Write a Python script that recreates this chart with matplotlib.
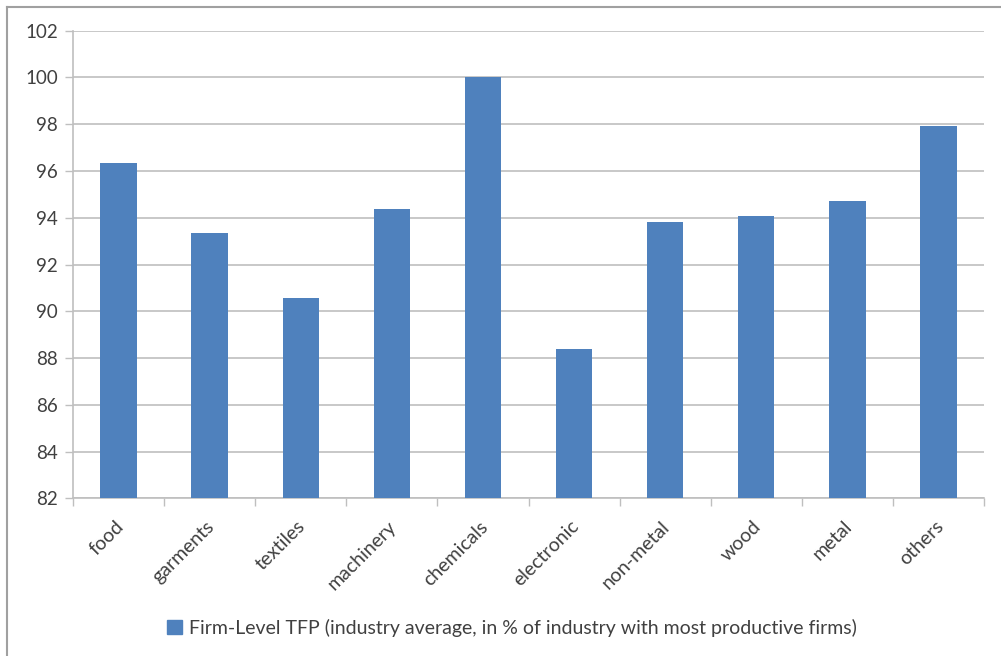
import numpy as np
import matplotlib.pyplot as plt
import matplotlib.transforms as mtransforms
from matplotlib.lines import Line2D
from matplotlib.patches import Patch

plt.rcParams['font.family'] = ['Lato', 'DejaVu Sans']

industries = ['food', 'garments', 'textiles', 'machinery', 'chemicals',
              'electronic', 'non-metal', 'wood', 'metal', 'others']
tfp = [96.35, 93.35, 90.57, 94.37, 100.0, 88.38, 93.83, 94.07, 94.72, 97.93]
series_name = 'Firm-Level TFP (industry average, in % of industry with most productive firms)'

bar_color = '#4F81BD'
grid_color = '#BFBFBF'
text_color = '#404040'

fig = plt.figure(figsize=(10.01, 6.56), dpi=100)
ax = fig.add_axes([73 / 1001, 157.7 / 656, 911 / 1001, 467.6 / 656])

x = np.arange(len(industries))
ax.bar(x, np.array(tfp) - 82, bottom=82, width=0.4, color=bar_color, zorder=3)

ax.set_xlim(-0.5, len(industries) - 0.5)
ax.set_ylim(82, 102)
ax.set_yticks(np.arange(82, 103, 2))
ax.yaxis.grid(True, color=grid_color, linewidth=1.2, zorder=0)
ax.tick_params(axis='y', length=6, width=1, color=grid_color, labelsize=13.5,
               labelcolor=text_color, pad=5)

# category labels on major ticks, tick marks between categories
ax.set_xticks(x)
ax.set_xticklabels(industries, rotation=45, ha='right', va='top',
                   rotation_mode='anchor', fontsize=14, color=text_color)
ax.tick_params(axis='x', which='major', length=0, pad=14)
ax.set_xticks(np.arange(-0.5, len(industries), 1), minor=True)
ax.tick_params(axis='x', which='minor', length=6, width=1, color=grid_color)
shift = mtransforms.ScaledTranslation(-4 / 100, 0, fig.dpi_scale_trans)
for lbl in ax.get_xticklabels():
    lbl.set_transform(lbl.get_transform() + shift)

for side in ['top', 'right']:
    ax.spines[side].set_visible(False)
ax.spines['left'].set_color(grid_color)
ax.spines['bottom'].set_color(grid_color)
ax.spines['left'].set_linewidth(1.2)
ax.spines['bottom'].set_linewidth(1.2)

fig.legend(handles=[Patch(color=bar_color, label=series_name)],
           loc='center', bbox_to_anchor=(512 / 1001, 1 - 628 / 656),
           frameon=False, fontsize=14, handlelength=0.75, handleheight=0.75,
           handletextpad=0.35, labelcolor=text_color)

# chart frame
fig.add_artist(Line2D([7 / 1001, 7 / 1001], [0, 1 - 7 / 656],
                      transform=fig.transFigure, color='#A0A0A0', linewidth=1.5))
fig.add_artist(Line2D([7 / 1001, 1], [1 - 7 / 656, 1 - 7 / 656],
                      transform=fig.transFigure, color='#A0A0A0', linewidth=1.5))

fig.savefig('out.png', dpi=100)
